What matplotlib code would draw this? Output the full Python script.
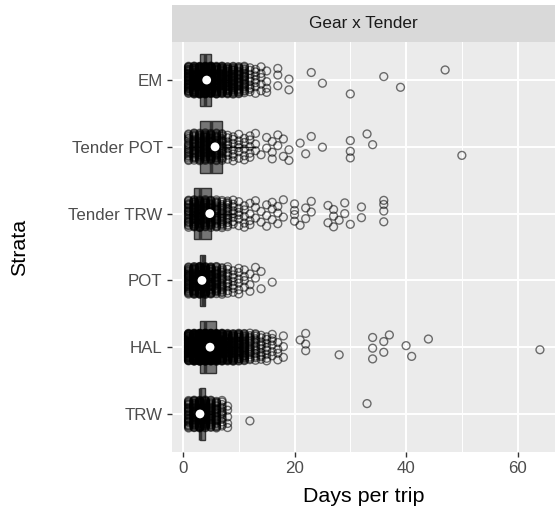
import numpy as np
import matplotlib
matplotlib.use("Agg")
import matplotlib.pyplot as plt

plt.rcParams['font.family'] = ['Liberation Sans', 'DejaVu Sans']

# strata, bottom to top
strata = ["TRW", "HAL", "POT", "Tender TRW", "Tender POT", "EM"]

# days per trip (integer days) and how many trips had that length
trw_days = [1, 2, 3, 4, 5, 6, 7, 8, 12, 33]
trw_counts = [30, 50, 60, 50, 35, 25, 14, 5, 1, 1]

hal_days = [1, 2, 3, 4, 5, 6, 7, 8, 9, 10, 11, 12, 13, 14, 15, 16, 17, 18,
            21, 22, 28, 34, 36, 37, 40, 41, 44, 64]
hal_counts = [70, 120, 140, 140, 120, 100, 80, 65, 55, 45, 35, 18, 14, 10, 8, 6, 4, 3,
              1, 3, 1, 3, 2, 1, 1, 1, 1, 1]

pot_days = [1, 2, 3, 4, 5, 6, 7, 8, 9, 10, 11, 12, 13, 14, 16]
pot_counts = [35, 60, 70, 60, 45, 30, 20, 10, 7, 6, 4, 3, 2, 2, 1]

ttrw_days = [1, 2, 3, 4, 5, 6, 7, 8, 9, 10, 11, 12, 13, 14, 15, 16, 17, 18,
             20, 21, 22, 23, 26, 27, 28, 29, 30, 32, 36]
ttrw_counts = [25, 40, 40, 35, 30, 25, 20, 14, 8, 6, 5, 4, 3, 2, 3, 3, 3, 2,
               4, 1, 2, 2, 2, 3, 1, 2, 1, 2, 4]

tpot_days = [1, 2, 3, 4, 5, 6, 7, 8, 9, 10, 11, 12, 13, 14, 15, 16, 17, 18, 19,
             21, 22, 23, 25, 30, 33, 34, 50]
tpot_counts = [20, 30, 35, 35, 30, 25, 18, 9, 7, 6, 5, 5, 3, 1, 2, 3, 2, 2, 2,
               1, 1, 1, 1, 3, 1, 1, 1]

em_days = [1, 2, 3, 4, 5, 6, 7, 8, 9, 10, 11, 12, 13, 14, 15, 17, 19,
           23, 25, 30, 36, 39, 47]
em_counts = [45, 70, 90, 90, 80, 65, 55, 45, 40, 30, 22, 9, 7, 5, 4, 3, 2,
             1, 1, 1, 1, 1, 1]

# box summaries (same order as strata)
box_q1 = [3, 3, 3, 2, 3, 3]
box_med = [3, 4, 3.5, 3, 5, 4]
box_q3 = [4, 6, 4, 5, 7, 5]
box_lo = [1, 1, 1, 1, 1, 1]
box_hi = [5, 10, 5, 9, 13, 8]
means = [3.05, 4.85, 3.4, 4.8, 5.75, 4.25]

all_days = [trw_days, hal_days, pot_days, ttrw_days, tpot_days, em_days]
all_counts = [trw_counts, hal_counts, pot_counts, ttrw_counts, tpot_counts, em_counts]

fig = plt.figure(figsize=(5.55, 5.11), dpi=100)
W, H = 555, 511
ax = fig.add_axes([172 / W, 1 - 452 / H, (W - 172) / W, (452 - 42) / H])
ax.set_facecolor("#EBEBEB")
for s in ax.spines.values():
    s.set_visible(False)

# boxes
stats = []
for i in range(len(strata)):
    stats.append(dict(q1=box_q1[i], med=box_med[i], q3=box_q3[i],
                      whislo=box_lo[i], whishi=box_hi[i], fliers=[]))
pos = np.arange(1, len(strata) + 1)
ax.bxp(stats, positions=pos, orientation='horizontal', widths=0.77,
       patch_artist=True, showcaps=False, showfliers=False,
       boxprops=dict(facecolor=(0, 0, 0, 0.5), edgecolor="#333333", linewidth=1),
       medianprops=dict(color="#333333", linewidth=2.5),
       whiskerprops=dict(color="#333333", linewidth=1),
       zorder=2)

# jittered points (vertical spread only, evenly spaced offsets)
phi = 0.6180339887
for i, (d, c) in enumerate(zip(all_days, all_counts)):
    x = np.repeat(d, c).astype(float)
    k = np.arange(len(x)) + 7 * i
    off = ((k * phi) % 1.0 - 0.5) * 0.42
    ax.scatter(x, pos[i] + off, s=32, facecolors="none",
               edgecolors=(0, 0, 0, 0.55), linewidths=1.0, zorder=3)

ax.scatter(means, pos, s=40, color="white", edgecolors="none", zorder=4)

ax.set_xlim(-1.97, 66.7)
ax.set_ylim(0.43, 6.57)
ax.set_xticks([0, 20, 40, 60])
ax.set_xticks([10, 30, 50], minor=True)
ax.set_yticks(pos)
ax.set_yticklabels(strata)
ax.grid(which="major", color="white", linewidth=1.4, zorder=0)
ax.grid(which="minor", axis="x", color="white", linewidth=0.7, zorder=0)
ax.set_axisbelow(True)
ax.tick_params(axis="both", which="major", labelsize=12.2, colors="#333333",
               labelcolor="#4D4D4D", length=3.8, width=1, pad=3)
ax.tick_params(axis="x", which="minor", length=0)

# facet strip
sx = fig.add_axes([172 / W, 1 - 42 / H, (W - 172) / W, 37 / H])
sx.set_facecolor("#D9D9D9")
sx.set_xticks([])
sx.set_yticks([])
for s in sx.spines.values():
    s.set_visible(False)
sx.text(0.5, 0.5, "Gear x Tender", ha="center", va="center",
        fontsize=12.3, color="#1A1A1A", transform=sx.transAxes)

fig.text(363.5 / W, 1 - 496 / H, "Days per trip", ha="center", va="center",
         fontsize=15.4, color="black")
fig.text(20 / W, 1 - 247 / H, "Strata", ha="center", va="center",
         rotation=90, fontsize=15.4, color="black")

fig.savefig("out.png", dpi=100, facecolor="white")
